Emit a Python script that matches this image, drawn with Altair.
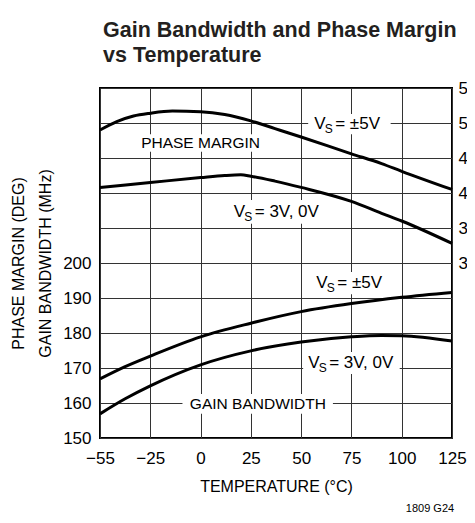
import altair as alt
import pandas as pd

FONT = "Liberation Sans, Arial, Helvetica, sans-serif"

# ---- data ----
pm5_t = [-55, -45, -35, -25, -14, 0, 12, 25, 37, 50, 75, 90, 100, 125]
pm5_v = [49.0, 50.2, 51.0, 51.4, 51.7, 51.6, 51.2, 50.3, 49.2, 48.0, 45.6, 44.2, 43.1, 40.5]

pm3_t = [-55, -25, 0, 12, 20, 25, 37, 50, 75, 90, 100, 125]
pm3_v = [40.8, 41.5, 42.2, 42.5, 42.6, 42.4, 41.7, 40.8, 38.8, 37.1, 36.0, 32.8]

gb5_t = [-55, -40, -25, 0, 25, 50, 75, 100, 125]
gb5_v = [166.9, 170.4, 173.4, 178.9, 182.8, 186.1, 188.4, 190.2, 191.6]

gb3_t = [-55, -40, -25, 0, 25, 50, 75, 90, 100, 125]
gb3_v = [156.9, 161.2, 164.9, 170.9, 174.9, 177.4, 178.9, 179.3, 179.2, 177.7]

x_ticks = [-55, -25, 0, 25, 50, 75, 100, 125]
gbw_grid = [150, 160, 170, 180, 190, 200, 210, 220, 230, 240, 250]
pm_ticks = [30, 35, 40, 45, 50, 55]

# annotation labels (left edge T, value) for "V_S = ..." labels
pm_vs_t = [56.5, 16.5]
pm_vs_v = [49.9, 37.3]
pm_vs_rest = ["= ±5V", "= 3V, 0V"]
gb_vs_t = [57.5, 53.5]
gb_vs_v = [194.3, 171.4]
gb_vs_rest = ["= ±5V", "= 3V, 0V"]

# white boxes behind labels
pm_box_t1 = [53.5, 14, -32.8]
pm_box_t2 = [94.5, 62.5, 32]
pm_box_v1 = [48.4, 35.6, 45.9]
pm_box_v2 = [51.3, 39.0, 48.4]
gb_box_t1 = [54.5, 51, -9]
gb_box_t2 = [95.5, 99, 65.8]
gb_box_v1 = [191.1, 168.3, 156.9]
gb_box_v2 = [197.4, 174.6, 162.6]

W, H = 352, 350

pm_df = pd.concat([
    pd.DataFrame({"T": pm5_t, "v": pm5_v, "s": "pm5"}),
    pd.DataFrame({"T": pm3_t, "v": pm3_v, "s": "pm3"}),
])
gb_df = pd.concat([
    pd.DataFrame({"T": gb5_t, "v": gb5_v, "s": "gb5"}),
    pd.DataFrame({"T": gb3_t, "v": gb3_v, "s": "gb3"}),
])

xscale = alt.Scale(domain=[-55, -25, 125], range=[0, W / 7, W])
xaxis = alt.Axis(values=x_ticks, grid=True, title="TEMPERATURE (°C)",
                 labelExpr="replace(datum.label, '-', '−')",
                 labelFlush=False, labelOverlap=False,
                 labelPadding=12, titleY=48, titleBaseline="middle")
gscale = alt.Scale(domain=[150, 250], nice=False, zero=False)
gaxis = alt.Axis(values=gbw_grid, grid=True,
                 labelExpr="datum.value <= 200 ? datum.label : ''",
                 labelPadding=9, labelFlush=False, labelOverlap=False,
                 title=["PHASE MARGIN (DEG)", "GAIN BANDWIDTH (MHz)"],
                 titleAngle=-90, titleX=-82, titleY=H / 2,
                 titleAlign="center", titleBaseline="middle", titleLineHeight=27)
pscale = alt.Scale(domain=[5, 55], nice=False, zero=False)
paxis = alt.Axis(values=pm_ticks, grid=False, orient="right", title=None,
                 labelPadding=6, labelFlush=False, labelOverlap=False)

def X(field="T", **kw):
    return alt.X(f"{field}:Q", scale=xscale, axis=xaxis, **kw)

def group(df, scale, axis, box, vs, plain):
    t1, t2, v1, v2 = box
    boxes = pd.DataFrame({"t1": t1, "t2": t2, "v1": v1, "v2": v2})
    rect = alt.Chart(boxes).mark_rect(color="white").encode(
        x=alt.X("t1:Q", scale=xscale, axis=xaxis), x2="t2:Q",
        y=alt.Y("v1:Q", scale=scale, axis=axis), y2="v2:Q")
    lines = alt.Chart(df).mark_line(color="black", strokeWidth=3, interpolate="monotone").encode(
        x=X(), y=alt.Y("v:Q", scale=scale, axis=axis), detail="s:N")
    vt, vv, rest = vs
    vdf = pd.DataFrame({"T": vt, "v": vv, "rest": rest})
    base = alt.Chart(vdf).encode(x=X(), y=alt.Y("v:Q", scale=scale, axis=axis))
    tV = base.mark_text(align="left", baseline="middle", font=FONT, fontSize=17).encode(text=alt.value("V"))
    tS = base.mark_text(align="left", baseline="middle", font=FONT, fontSize=12, dx=10.5, dy=5).encode(text=alt.value("S"))
    tR = base.mark_text(align="left", baseline="middle", font=FONT, fontSize=17, dx=21).encode(text="rest:N")
    pt, pv, ptxt = plain
    pdf = pd.DataFrame({"T": pt, "v": pv, "txt": ptxt})
    tP = alt.Chart(pdf).mark_text(align="center", baseline="middle", font=FONT, fontSize=15.5).encode(
        x=X(), y=alt.Y("v:Q", scale=scale, axis=axis), text="txt:N")
    return alt.layer(rect, lines, tV, tS, tR, tP)

left = group(gb_df, gscale, gaxis,
             (gb_box_t1, gb_box_t2, gb_box_v1, gb_box_v2),
             (gb_vs_t, gb_vs_v, gb_vs_rest),
             ([28.5], [159.7], ["GAIN BANDWIDTH"]))
right = group(pm_df, pscale, paxis,
              (pm_box_t1, pm_box_t2, pm_box_v1, pm_box_v2),
              (pm_vs_t, pm_vs_v, pm_vs_rest),
              ([0], [47.1], ["PHASE MARGIN"]))

footer = alt.Chart(pd.DataFrame({"f": ["1809 G24"]})).mark_text(
    font=FONT, fontSize=11, align="center", baseline="middle").encode(
    text="f:N", x=alt.value(330), y=alt.value(421))

chart = alt.layer(left, right, footer).resolve_scale(y="independent").properties(
    width=W, height=H,
    autosize=alt.AutoSizeParams(type="none"),
    padding={"left": 92, "top": 80, "right": 15, "bottom": 77},
    title=alt.TitleParams(
        text=["Gain Bandwidth and Phase Margin", "vs Temperature"],
        anchor="start", frame="group", font=FONT, fontSize=21.5, fontWeight="bold",
        color="#231f20", baseline="bottom", offset=10, dx=3, dy=19, lineHeight=25),
).configure_view(stroke="black", strokeWidth=2).configure_axis(
    domain=False, ticks=False, gridColor="#333333", gridWidth=1, gridOpacity=1,
    labelFont=FONT, labelFontSize=17, labelColor="black",
    titleFont=FONT, titleFontSize=16, titleFontWeight="normal", titleColor="black",
)

chart.save("out.html", embed_options={"renderer": "svg", "actions": False})
